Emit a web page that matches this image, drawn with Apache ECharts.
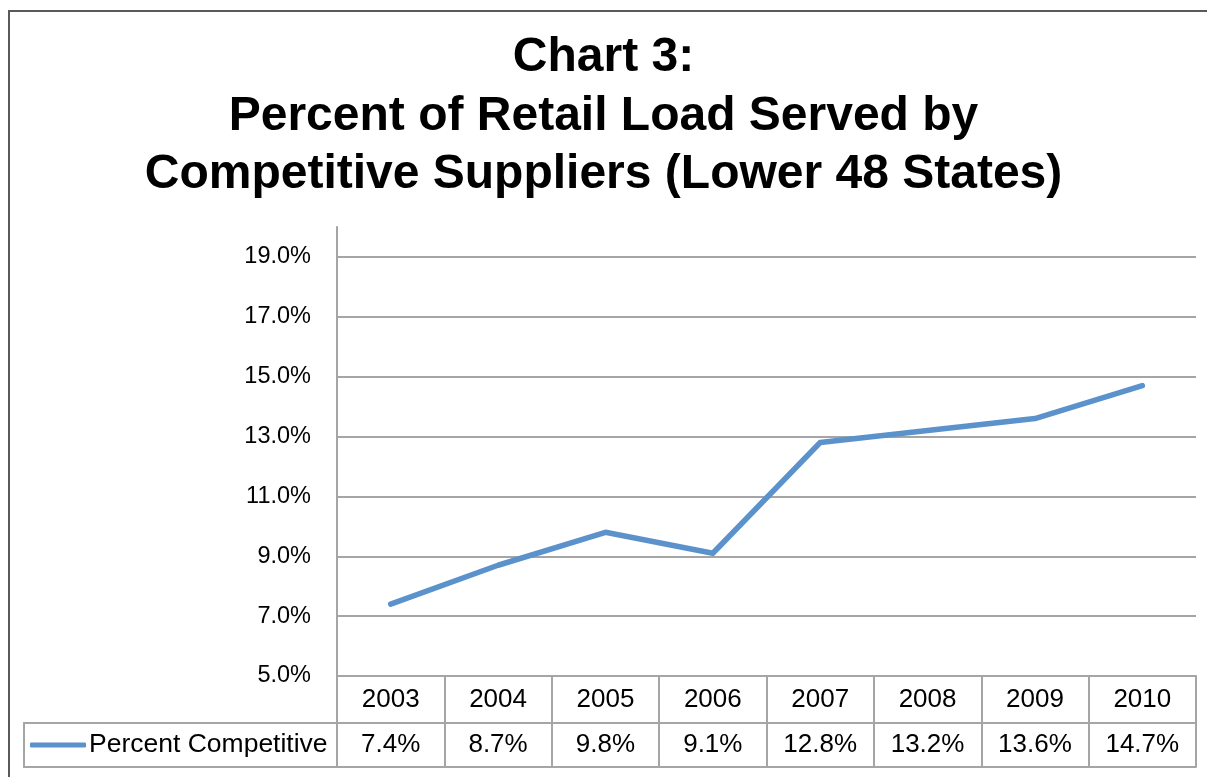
<!DOCTYPE html>
<html>
<head>
<meta charset="utf-8">
<script src="https://cdn.jsdelivr.net/npm/echarts@6/dist/echarts.min.js"></script>
<style>
html,body{margin:0;padding:0;background:#fff;}
#chart{width:1207px;height:777px;}
</style>
</head>
<body>
<div id="chart"></div>
<script>
const titleLines = ['Chart 3:', 'Percent of Retail Load Served by', 'Competitive Suppliers (Lower 48 States)'];
const years = ['2003', '2004', '2005', '2006', '2007', '2008', '2009', '2010'];
const percentCompetitive = [7.4, 8.7, 9.8, 9.1, 12.8, 13.2, 13.6, 14.7];
const seriesName = 'Percent Competitive';
const yMin = 5, yMax = 20, yStep = 2;

const FONT = '"Liberation Sans", Arial, sans-serif';
const GRID = '#a5a5a5';
const LINE = '#5b92cb';

const chart = echarts.init(document.getElementById('chart'), null, {renderer: 'canvas'});
chart.setOption({
  animation: false,
  backgroundColor: '#fff',
  textStyle: {fontFamily: FONT},
  title: {
    text: titleLines.join('\n'),
    left: 'center',
    top: 29,
    padding: 0,
    textStyle: {fontFamily: FONT, fontSize: 48, fontWeight: 'bold', color: '#000', lineHeight: 58.5}
  },
  graphic: [
    {type: 'rect', z: -1, shape: {x: 9, y: 11, width: 1300, height: 900}, style: {fill: 'none', stroke: '#595959', lineWidth: 2}},
    {type: 'rect', shape: {x: 24, y: 723, width: 313, height: 44}, style: {fill: 'none', stroke: GRID, lineWidth: 2}}
  ],
  legend: {
    show: true,
    data: [{name: seriesName, icon: 'roundRect'}],
    orient: 'horizontal',
    left: 30,
    top: 731,
    padding: 0,
    itemWidth: 56,
    itemHeight: 5,
    itemStyle: {color: LINE},
    textStyle: {fontFamily: FONT, fontSize: 26.5, color: '#000', lineHeight: 28, padding: [0, 0, 0, -2]}
  },
  grid: {left: 337, right: 11, top: 227, bottom: 101, containLabel: false},
  xAxis: [
    {
      type: 'category',
      data: years,
      boundaryGap: true,
      axisLine: {show: true, lineStyle: {color: GRID, width: 2}},
      axisTick: {show: true, interval: 0, length: 91, lineStyle: {color: GRID, width: 2}},
      axisLabel: {
        interval: 0,
        margin: 1,
        formatter: function (v, i) { return '{a|' + v + '}\n{b|' + percentCompetitive[i].toFixed(1) + '%}'; },
        rich: {
          a: {fontFamily: FONT, fontSize: 26, color: '#000', lineHeight: 46},
          b: {fontFamily: FONT, fontSize: 26, color: '#000', lineHeight: 44}
        }
      },
      splitLine: {show: false}
    },
    {
      type: 'category', data: years, position: 'bottom', offset: 47,
      axisLine: {show: true, lineStyle: {color: GRID, width: 2}},
      axisTick: {show: false}, axisLabel: {show: false}, splitLine: {show: false}
    },
    {
      type: 'category', data: years, position: 'bottom', offset: 91,
      axisLine: {show: true, lineStyle: {color: GRID, width: 2}},
      axisTick: {show: false}, axisLabel: {show: false}, splitLine: {show: false}
    }
  ],
  yAxis: {
    type: 'value',
    min: yMin,
    max: yMax,
    interval: yStep,
    axisLine: {show: true, lineStyle: {color: GRID, width: 2}},
    axisTick: {show: false},
    axisLabel: {
      margin: 26,
      showMaxLabel: false,
      fontFamily: FONT, fontSize: 23.5, color: '#000',
      formatter: function (v) { return v.toFixed(1) + '%'; }
    },
    splitLine: {show: true, showMaxLine: false, lineStyle: {color: GRID, width: 2}}
  },
  series: [{
    name: seriesName,
    type: 'line',
    data: percentCompetitive,
    symbol: 'none',
    lineStyle: {color: LINE, width: 5.5, cap: 'round', join: 'round'},
    itemStyle: {color: LINE}
  }]
});
</script>
</body>
</html>
